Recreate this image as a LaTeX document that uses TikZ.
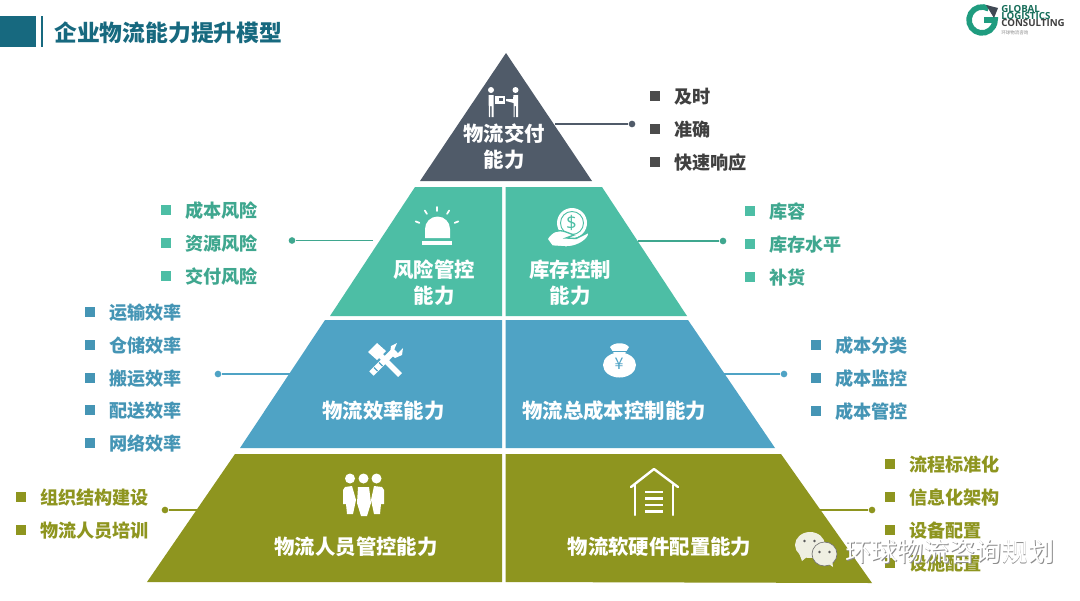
\documentclass[tikz,border=0pt]{standalone}
\usepackage{fontspec}
\setmainfont{Noto Sans CJK SC}
\setsansfont{Open Sans}
\definecolor{cdark}{HTML}{505B69}
\definecolor{cteal}{HTML}{4DBEA5}
\definecolor{cblue}{HTML}{4FA3C5}
\definecolor{colive}{HTML}{8E951F}
\definecolor{ctitle}{HTML}{17697F}
\definecolor{ctealt}{HTML}{3FA78F}
\definecolor{cbluet}{HTML}{4595B5}
\definecolor{cgreen}{HTML}{1F9C7F}
\definecolor{cbubble}{HTML}{EFEFE2}
\tikzset{
  x=.75pt,y=-.75pt,
  panel/.style={fill=#1,draw=none},
  tierlabel/.style={text=white,font=\bfseries\fontsize{15.3}{19.4}\selectfont,align=center,inner sep=0pt,anchor=center},
  itemtext/.style={text=#1,font=\bfseries\fontsize{13.6}{16}\selectfont,anchor=west,inner sep=0pt,yshift=-.5pt},
  itemsq/.style={fill=#1,draw=none,minimum size=7.5pt,inner sep=0pt,anchor=center,shape=rectangle},
  leader/.style={draw=#1,line width=1pt},
  leaderdot/.style={fill=#1,draw=none,circle,minimum size=5pt,inner sep=0pt},
  icon/.style={fill=white,draw=none},
  iconline/.style={draw=white,line cap=round,line join=round},
  logotext/.style={font=\sffamily\bfseries\fontsize{7.3}{7.3}\selectfont,anchor=west,inner sep=0pt},
  wmtext/.style={font=\fontsize{19.6}{22}\selectfont,anchor=west,inner sep=0pt},
}
\newcommand{\itemlist}[5]{%
  \foreach \yy/\tt in {#5}{
    \node[itemsq=#1] (sq#2-\yy) at (#2,\yy) {};
    \node[itemtext=#4] (tx#2-\yy) at (#3,\yy) {\tt};
  }}
\begin{document}
\begin{tikzpicture}
\useasboundingbox (0,0) rectangle (1080,600);
\fill[white] (0,0) rectangle (1080,600);
% header
\fill[ctitle] (0,16) rectangle (36,47);
\draw[ctitle,line width=1.6pt] (42,16) -- (42,47);
\node[text=ctitle,font=\bfseries\fontsize{17.1}{20}\selectfont,anchor=west,inner sep=0pt] (title) at (54,33) {企业物流能力提升模型};
% logo
\draw[cgreen,line width=4.2pt] (988.5,8.7) arc (-60:-360:13) -- (984,20);
\fill[cdark!80!black] (986,5) -- (998,8) -- (994,18) -- cycle;
\node[logotext,text=cgreen!70!black] (logoa) at (1001,9.5) {GLOBAL};
\node[logotext,text=cgreen!70!black] (logob) at (1001,16.5) {LOGISTICS};
\node[logotext,text=black!75] (logoc) at (1001,23.5) {CONSULTING};
\node[text=black!45,font=\fontsize{3.4}{4}\selectfont,anchor=west,inner sep=0pt] (logocn) at (1001,33) {环球物流咨询};
% pyramid
\fill[panel=cdark] (506,53) -- (592,181) -- (420,181) -- cycle;
\fill[panel=cteal] (415,187) -- (502,187) -- (502,316) -- (330,316) -- cycle;
\fill[panel=cteal] (505.5,187) -- (602,187) -- (687,316) -- (505.5,316) -- cycle;
\fill[panel=cblue] (325,320) -- (502,320) -- (502,448) -- (240,448) -- cycle;
\fill[panel=cblue] (505.5,320) -- (688,320) -- (775,448) -- (505.5,448) -- cycle;
\fill[panel=colive] (235,454) -- (502,454) -- (502,582) -- (147,582) -- cycle;
\fill[panel=colive] (505.5,454) -- (781,454) -- (872,583) -- (505.5,582) -- cycle;
% tier labels
\node[tierlabel] (l1) at (504,147) {物流交付\\能力};
\node[tierlabel] (l2a) at (434,283) {风险管控\\能力};
\node[tierlabel] (l2b) at (570,283) {库存控制\\能力};
\node[tierlabel] (l3a) at (383.5,411) {物流效率能力};
\node[tierlabel] (l3b) at (614,411) {物流总成本控制能力};
\node[tierlabel] (l4a) at (356,546.5) {物流人员管控能力};
\node[tierlabel] (l4b) at (659.5,546.5) {物流软硬件配置能力};
% leaders
\coordinate (a1) at (555,124); \node[leaderdot=cdark] (d1) at (632,124) {};
\draw[leader=cdark] (a1) -- (d1);
\coordinate (a2) at (373,240.5); \node[leaderdot=ctealt] (d2) at (292,240.5) {};
\draw[leader=ctealt] (a2) -- (d2);
\coordinate (a3) at (638,241); \node[leaderdot=ctealt] (d3) at (723,241) {};
\draw[leader=ctealt] (a3) -- (d3);
\coordinate (a4) at (297,374); \node[leaderdot=cblue] (d4) at (218,374) {};
\draw[leader=cblue] (a4) -- (d4);
\coordinate (a5) at (723,374); \node[leaderdot=cblue] (d5) at (784,374) {};
\draw[leader=cblue] (a5) -- (d5);
\coordinate (a6) at (198,510); \node[leaderdot=colive] (d6) at (165,510) {};
\draw[leader=colive] (a6) -- (d6);
\coordinate (a7) at (820,510); \node[leaderdot=colive] (d7) at (872,510) {};
\draw[leader=colive] (a7) -- (d7);
% lists
\itemlist{black!70}{655}{674}{black!75}{96/及时,129/准确,162/快速响应}
\itemlist{cteal}{166}{185}{ctealt}{210/成本风险,243/资源风险,276/交付风险}
\itemlist{cteal}{750}{769}{ctealt}{211/库容,244/库存水平,277/补货}
\itemlist{cbluet}{90}{109}{cbluet}{312/运输效率,345/仓储效率,378/搬运效率,410/配送效率,443/网络效率}
\itemlist{cbluet}{816}{835}{cbluet}{345/成本分类,378/成本监控,411/成本管控}
\itemlist{colive}{21}{40}{colive}{497/组织结构建设,530/物流人员培训}
\itemlist{colive}{890}{909}{colive}{464/流程标准化,497/信息化架构,530/设备配置,563/设施配置}
% icon: delivery
\fill[icon] (491,90) circle (3);\fill[icon] (515.5,90) circle (3);
\fill[icon] (488.5,95) -- (493.5,95) -- (493.5,117) -- (491.5,117) -- (491.5,106) -- (490,106) -- (490,117) -- (489,117) -- cycle;
\fill[icon] (513.5,95) -- (518,95) -- (518,117) -- (516,117) -- (516,106) -- (514.5,106) -- (514.5,117) -- (513.5,117) -- (513.5,103) -- (506,101) -- (506,99) -- (513,99) -- cycle;
\fill[icon] (495,96) rectangle (505,103.5);
\fill[cdark] (498.5,97.5) rectangle (502.5,100.5);
% icon: alarm
\fill[icon] (425,238) -- (425,229) arc (-180:0:12.5) -- (450,238) -- cycle;
\fill[icon] (422,241) rectangle (452,244.5);
\foreach \a in {22,58,90,122,158}{
  \draw[iconline,line width=1.3pt] (437,230)++(-\a:19) -- ++(-\a:4);
}
% icon: coin and hand
\fill[icon] (572,223) circle (15);
\draw[cteal,line width=.7pt] (572,223) circle (11.5);
\node[text=cteal,font=\sffamily\fontsize{14}{14}\selectfont,inner sep=0pt] (dollar) at (571.5,223) {\$};
\draw[cteal,line width=1pt,fill=white] (547,239) .. controls (552,231) and (558,229) .. (566,232) -- (574,235) -- (566,238) -- (576,238.5) -- (589,232) .. controls (590,239) and (578,247) .. (566,247) -- (552,246) -- cycle;
% icon: tools
\begin{scope}[shift={(385,360)}]
\draw[white,line width=4.2pt] (-7,-7) -- (15,15);
\draw[white,line width=4.6pt] (-13.5,13.5) -- (10,-10);
\draw[cblue,line width=.9pt] (-6,2.5) -- (-2.5,6);
\draw[cblue,line width=.9pt] (-11,7.5) -- (-7.5,11);
\fill[icon] (-17,-8) -- (-8,-17) -- (1,-9) -- (-8,0) -- cycle;
\fill[icon] (5,-6) -- (6,-14) -- (12,-17) -- (9,-10) -- (13,-7) -- (18,-12) -- (17,-5) -- (10,-2) -- cycle;
\end{scope}
% icon: money bag
\fill[icon] (619.5,365) ellipse (16.5 and 12.5);
\fill[icon] (610,347) .. controls (614,342) and (625,342) .. (629,347) -- (624,355) -- (615,355) -- cycle;
\draw[cblue,line width=.7pt] (612,351) -- (627,351);
\node[text=cblue,font=\fontsize{12}{12}\selectfont,inner sep=0pt] (yen) at (619,363.5) {¥};
% icon: people
\foreach \px in {350,363.5,376.5}{
  \fill[icon] (\px,478.5) circle (5);
}
\fill[icon] (345,487) -- (352,486) -- (356,500) -- (353,514) -- (347,514) -- (346,504) -- (343,504) -- (343,490) -- cycle;
\fill[icon] (358,487) -- (369,487) -- (371,503) -- (367,516) -- (361,516) -- (357,503) -- cycle;
\fill[icon] (374,486) -- (382,487) -- (384,490) -- (384,504) -- (381,504) -- (380,514) -- (374,514) -- (371,500) -- cycle;
% icon: house
\draw[iconline,line width=1.8pt] (631,487) -- (654,469) -- (678,487);
\draw[iconline,line width=1.8pt] (635,485) -- (635,515);
\draw[iconline,line width=1.8pt] (673,485) -- (673,515);
\foreach \hy in {492,498.5,505,511.5}{
  \draw[white,line width=1.6pt] (645,\hy) -- (663,\hy);
}
% watermark
\fill[cbubble] (810,545) ellipse (15 and 13);
\fill[cbubble] (799,553) -- (802,561) -- (808,556) -- cycle;
\draw[black!55,line width=.5pt,fill=cbubble] (824.5,554) ellipse (12.5 and 12);
\fill[cbubble] (826,562) -- (833,567) -- (832,559) -- cycle;
\foreach \ex/\ey in {804.5/541,814.5/541,819.5/552,829.5/552}{\fill[black!65] (\ex,\ey) circle (1.4);}
\node[wmtext,text=black!45] (wmshadow) at (845.8,552.8) {环球物流咨询规划};
\node[wmtext,text=white] (wm) at (845,552) {环球物流咨询规划};
\end{tikzpicture}
\end{document}
